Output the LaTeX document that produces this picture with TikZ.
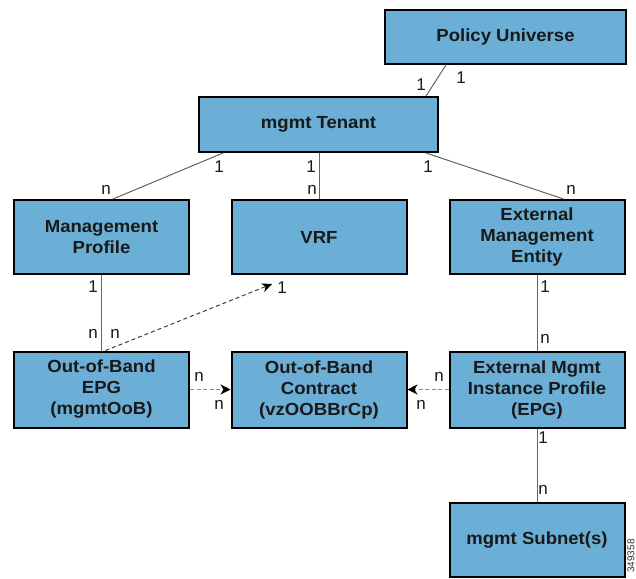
\documentclass[tikz,border=0pt]{standalone}
\usepackage{fontspec}
\setmainfont{Liberation Sans}
\newfontfamily\boxfont[FakeStretch=1.06]{Liberation Sans}
\usetikzlibrary{calc,arrows.meta}
\definecolor{boxblue}{RGB}{107,174,214}
\definecolor{lnk}{RGB}{100,100,100}
\definecolor{dsh}{RGB}{60,60,60}
\definecolor{dshl}{RGB}{140,140,140}
\begin{document}
\begin{tikzpicture}[x=1pt,y=-1pt,
  ent/.style={draw=black, line width=2pt, fill=boxblue, align=center, inner sep=0pt,
    minimum width=175pt, minimum height=74pt,
    font=\boxfont\bfseries\fontsize{17.5}{21}\selectfont, text=black!90},
  card/.style={inner sep=0pt, font=\fontsize{17}{20}\selectfont, text=black!90},
  link/.style={draw=lnk, line width=1pt},
  dlink/.style={draw=dsh, line width=1pt, dash pattern=on 4pt off 3pt, -{Stealth[length=10pt,width=9pt,inset=3pt,color=black]}},
  hlink/.style={draw=dshl, line width=1.3pt, dash pattern=on 4pt off 2.5pt, -{Stealth[length=10pt,width=10pt,inset=3pt,color=black]}}
]
\useasboundingbox (0,0) rectangle (636,578);

\node[ent, minimum width=241pt, minimum height=54pt] (pu) at (505.5,37) {Policy Universe};
\node[ent, minimum width=239pt, minimum height=55pt] (ten) at (318.5,124.5) {mgmt Tenant};
\node[ent] (mp)  at (101.5,237) {Management\\Profile};
\node[ent] (vrf) at (319,237) {VRF};
\node[ent] (eme) at (537,237) {External\\Management\\Entity};
\node[ent, minimum height=76pt] (epg) at (101.5,389.5) {Out-of-Band\\EPG\\(mgmtOoB)};
\node[ent, minimum height=76pt] (con) at (319,389.5) {Out-of-Band\\Contract\\(vzOOBBrCp)};
\node[ent, minimum height=76pt] (inst) at (537,389.5) {External Mgmt\\Instance Profile\\(EPG)};
\node[ent] (sub) at (537,540) {mgmt Subnet(s)};

\coordinate (vrfend) at (272,284);

% solid relations
\draw[link] ($(pu.south west)+(62,0)$) -- ($(ten.north west)+(228,0)$);
\draw[link] ($(ten.south west)+(25,0)$) -- ($(mp.north west)+(100,0)$);
\draw[link] (ten.south -| vrf.north) -- (vrf.north);
\draw[link] ($(ten.south east)+(-13,0)$) -- ($(eme.north west)+(115,0)$);
\draw[link] (mp.south) -- (epg.north);
\draw[link] (eme.south) -- (inst.north);
\draw[link] (inst.south) -- (sub.north);

% dashed relations
\draw[dlink] ($(epg.north)+(4,0)$) -- (vrfend);
\draw[hlink] (epg.east) -- (con.west);
\draw[hlink] (inst.west) -- (con.east);

% cardinalities
\node[card] (c1) at (421,85) {1};
\node[card] (c2) at (461,78) {1};
\node[card] (c3) at (219,167) {1};
\node[card] (c4) at (106,190) {n};
\node[card] (c5) at (311,167) {1};
\node[card] (c6) at (312,190) {n};
\node[card] (c7) at (428,167) {1};
\node[card] (c8) at (571,190) {n};
\node[card] (c9) at (93,287) {1};
\node[card] (c10) at (93,334) {n};
\node[card] (c11) at (115,334) {n};
\node[card] (c12) at (282,288) {1};
\node[card] (c13) at (545,287) {1};
\node[card] (c14) at (545,339) {n};
\node[card] (c15) at (199,377) {n};
\node[card] (c16) at (219,405) {n};
\node[card] (c17) at (439,377) {n};
\node[card] (c18) at (421,405) {n};
\node[card] (c19) at (543,438) {1};
\node[card] (c20) at (543,490) {n};

\node[inner sep=0pt, rotate=90, font=\fontsize{10}{11}\selectfont, text=black!80] (fig) at (631,556) {349358};
\end{tikzpicture}
\end{document}
